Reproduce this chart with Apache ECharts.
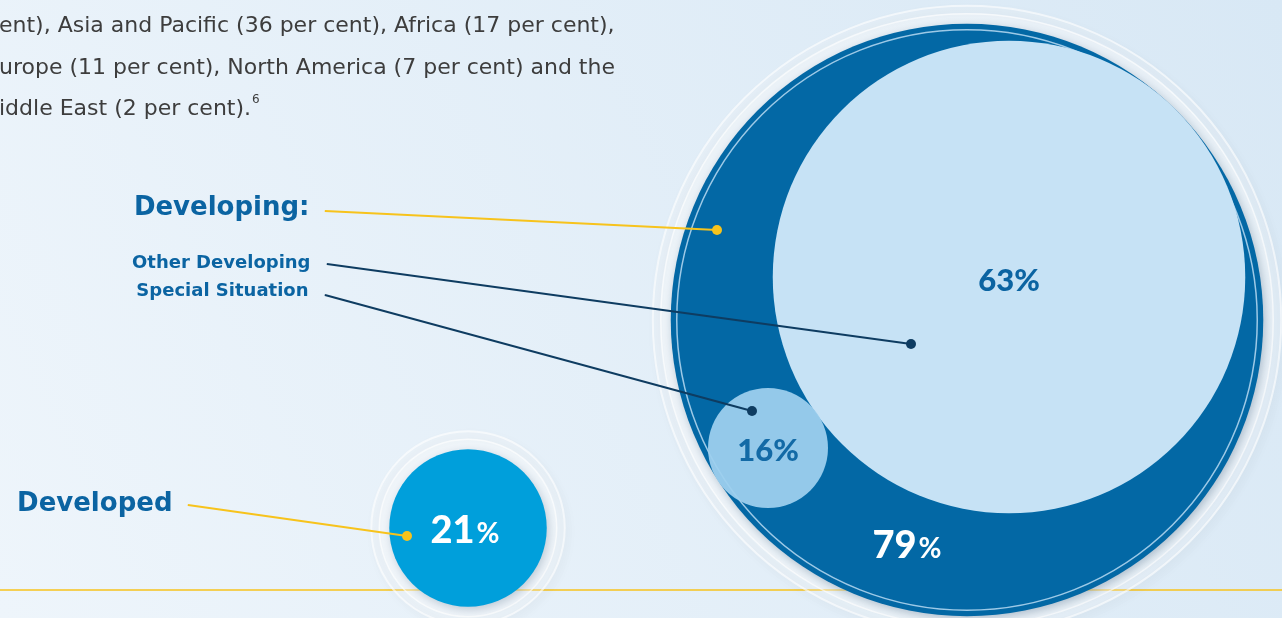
<!DOCTYPE html>
<html>
<head>
<meta charset="utf-8">
<script src="https://cdn.jsdelivr.net/npm/echarts@6/dist/echarts.min.js"></script>
<style>
html,body{margin:0;padding:0;width:1282px;height:618px;overflow:hidden;}
#chart{width:1282px;height:618px;}
</style>
</head>
<body>
<div id="chart"></div>
<script>
// ---- data ----
const groups = ['Developing', 'Other Developing', 'Special Situation', 'Developed'];
const shares = [79, 63, 16, 21];
const leaderLabels = ['Developing:', 'Other Developing', 'Special Situation', 'Developed'];
const introLines = [
  'ent), Asia and Pacific (36 per cent), Africa (17 per cent),',
  'urope (11 per cent), North America (7 per cent) and the',
  'iddle East (2 per cent).'
];
const footnote = '6';

// ---- layout (canvas units on hidden axes) ----
const centers = [[967, 320], [1009, 277], [768, 448], [468, 528]];
const leaderStart = [[325, 211], [327, 264], [325, 295], [188, 505]];
const leaderEnd = [[717, 230], [911, 344], [752, 411], [407, 536]];
const SIZE_PER_PCT = 7.5; // circle diameter per percentage point

const fillColors = ['#0368a5', '#c6e2f5', '#9dcfee', '#009fdb'];
const leaderColors = ['#f7c31c', '#0e3c61', '#0e3c61', '#f7c31c'];
const blue = '#0b64a2';
const numFont = 'Lato';
const labelFont = 'DejaVu Sans';
const bodyFont = 'DejaVu Sans';
const bodyColor = '#3d3d3d';

function item(i, extra) {
  return Object.assign({ name: groups[i], value: [centers[i][0], centers[i][1], shares[i]] }, extra || {});
}
const sizeFn = v => v[2] * SIZE_PER_PCT;

const bigLabel = {
  show: true,
  formatter: p => '{n|' + p.value[2] + '}{p|%}',
  rich: {
    n: { fontFamily: numFont, fontWeight: 900, fontSize: 38, color: '#ffffff' },
    p: { fontFamily: numFont, fontWeight: 700, fontSize: 28, color: '#ffffff', padding: [5, 0, 0, 2] }
  }
};
const midLabel = {
  show: true,
  formatter: p => p.value[2] + '%',
  fontFamily: numFont, fontWeight: 900, fontSize: 31, color: blue
};

const series = [];

// halos
series.push({
  type: 'scatter', z: 1, silent: true,
  symbolSize: v => v[2] * SIZE_PER_PCT + 36,
  itemStyle: { opacity: 1, color: 'rgba(255,255,255,0.22)', borderColor: 'rgba(255,255,255,0.6)', borderWidth: 2,
               shadowBlur: 10, shadowColor: 'rgba(0,30,60,0.10)', shadowOffsetX: 3, shadowOffsetY: 4 },
  data: [item(0), item(3)]
});
series.push({
  type: 'scatter', z: 1, silent: true,
  symbolSize: v => v[2] * SIZE_PER_PCT + 20,
  itemStyle: { opacity: 1, color: 'rgba(255,255,255,0.30)', borderColor: 'rgba(255,255,255,0.65)', borderWidth: 1.5 },
  data: [item(0), item(3)]
});
// main circles
series.push({
  type: 'scatter', z: 2, silent: true,
  symbolSize: sizeFn,
  itemStyle: { opacity: 1 },
  data: [
    item(0, { itemStyle: { opacity: 1, color: fillColors[0], shadowBlur: 8, shadowColor: 'rgba(0,40,80,0.25)', shadowOffsetX: 2, shadowOffsetY: 3 },
              label: Object.assign({}, bigLabel, { offset: [-60, 226] }) }),
    item(3, { itemStyle: { opacity: 1, color: fillColors[3], shadowBlur: 8, shadowColor: 'rgba(0,40,80,0.2)', shadowOffsetX: 2, shadowOffsetY: 3 },
              label: Object.assign({}, bigLabel, { offset: [-3, 3] }) })
  ]
});
// inner thin ring
series.push({
  type: 'scatter', z: 3, silent: true,
  symbolSize: v => v[2] * SIZE_PER_PCT - 12,
  itemStyle: { opacity: 1, color: 'rgba(0,0,0,0)', borderColor: 'rgba(185,218,242,0.85)', borderWidth: 1.5 },
  data: [item(0)]
});
// sub circles
series.push({
  type: 'scatter', z: 4, silent: true,
  symbolSize: sizeFn,
  itemStyle: { opacity: 1 },
  data: [
    item(1, { itemStyle: { opacity: 1, color: fillColors[1] }, label: Object.assign({}, midLabel, { offset: [0, 4] }) }),
    item(2, { itemStyle: { opacity: 0.94, color: fillColors[2] }, label: Object.assign({}, midLabel, { offset: [0, 3] }) })
  ]
});
// leader lines
for (let i = 0; i < groups.length; i++) {
  const isMain = (i === 0 || i === 3);
  series.push({
    type: 'line', z: 6, silent: true,
    lineStyle: { color: leaderColors[i], width: 2 },
    itemStyle: { color: leaderColors[i], opacity: 1 },
    showAllSymbol: true,
    data: [
      { value: leaderStart[i], symbol: 'circle', symbolSize: 1,
        label: { show: true, position: 'left', distance: isMain ? 15 : 16,
                 formatter: leaderLabels[i], fontFamily: labelFont, fontWeight: 700,
                 fontSize: isMain ? 26 : 18, color: blue,
                 offset: i === 2 ? [0, -4] : (i === 0 ? [0, -3] : [0, -1]) } },
      { value: leaderEnd[i], symbol: 'circle', symbolSize: 10, label: { show: false } }
    ]
  });
}

const chart = echarts.init(document.getElementById('chart'), null, { renderer: 'canvas' });
chart.setOption({
  animation: false,
  backgroundColor: { type: 'linear', x: 1, y: 0, x2: 0, y2: 1,
    colorStops: [{ offset: 0, color: '#d8e8f5' }, { offset: 1, color: '#eef5fb' }] },
  grid: { left: 0, right: 0, top: 0, bottom: 0 },
  xAxis: { type: 'value', min: 0, max: 1282, show: false },
  yAxis: { type: 'value', min: 0, max: 618, inverse: true, show: false },
  graphic: [
    { type: 'line', z: 0, silent: true, shape: { x1: 0, y1: 590, x2: 1282, y2: 590 },
      style: { stroke: '#f7c31c', lineWidth: 1.5 } },
    { type: 'text', left: -1, top: 15, silent: true,
      style: { text: introLines[0], font: '22px "DejaVu Sans"', fill: bodyColor } },
    { type: 'text', left: -1, top: 57, silent: true,
      style: { text: introLines[1], font: '22px "DejaVu Sans"', fill: bodyColor } },
    { type: 'text', left: -1, top: 94, silent: true,
      style: { text: '{a|' + introLines[2] + '}{s|' + footnote + '}',
               rich: { a: { fontFamily: bodyFont, fontSize: 22, fill: bodyColor, lineHeight: 30 },
                       s: { fontFamily: bodyFont, fontSize: 12, fill: bodyColor, verticalAlign: 'top', lineHeight: 30, padding: [0, 0, 10, 1] } } } }
  ],
  series: series
});
</script>
</body>
</html>
